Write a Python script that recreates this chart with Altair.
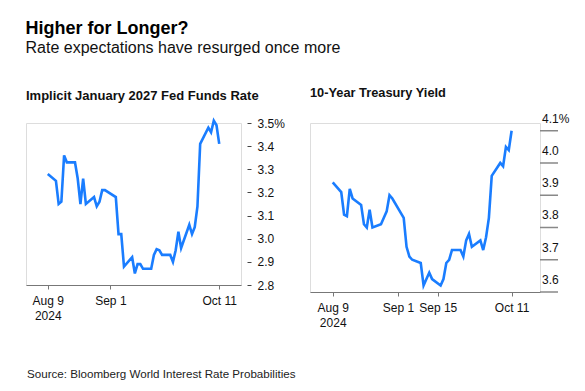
import altair as alt
import pandas as pd

FONT = "Liberation Sans"
BLUE = "#1a7dff"

title_text = "Higher for Longer?"
subtitle_text = "Rate expectations have resurged once more"
left_title = "Implicit January 2027 Fed Funds Rate"
right_title = "10-Year Treasury Yield"
source_text = "Source: Bloomberg World Interest Rate Probabilities"

left_dates = [
    "2024-08-09", "2024-08-12", "2024-08-13", "2024-08-14", "2024-08-15", "2024-08-16",
    "2024-08-19", "2024-08-20", "2024-08-21", "2024-08-22", "2024-08-23",
    "2024-08-26", "2024-08-27", "2024-08-28", "2024-08-29", "2024-08-30",
    "2024-09-03", "2024-09-04", "2024-09-05", "2024-09-06",
    "2024-09-09", "2024-09-10", "2024-09-11", "2024-09-12", "2024-09-13",
    "2024-09-16", "2024-09-17", "2024-09-18", "2024-09-19", "2024-09-20",
    "2024-09-23", "2024-09-24", "2024-09-25", "2024-09-26", "2024-09-27",
    "2024-09-30", "2024-10-01", "2024-10-02", "2024-10-03", "2024-10-04",
    "2024-10-07", "2024-10-08", "2024-10-09", "2024-10-10", "2024-10-11",
]
left_values = [
    3.28, 3.25, 3.15, 3.16, 3.36, 3.33,
    3.33, 3.26, 3.15, 3.26, 3.15,
    3.18, 3.14, 3.16, 3.21, 3.21,
    3.18, 3.02, 3.02, 2.88,
    2.92, 2.85, 2.89, 2.89, 2.87,
    2.87, 2.93, 2.955, 2.95, 2.93,
    2.93, 2.90, 2.95, 3.03, 2.96,
    3.06, 3.02, 3.05, 3.14, 3.41,
    3.48, 3.46, 3.51, 3.49, 3.41,
]

right_dates = left_dates
right_values = [
    3.94, 3.91, 3.84, 3.835, 3.92, 3.89,
    3.87, 3.81, 3.80, 3.855, 3.80,
    3.81, 3.83, 3.85, 3.90, 3.89,
    3.83, 3.74, 3.71, 3.70,
    3.69, 3.62, 3.64, 3.66, 3.64,
    3.62, 3.64, 3.69, 3.70, 3.73,
    3.73, 3.71, 3.76, 3.78, 3.74,
    3.76, 3.73, 3.77, 3.83, 3.96,
    4.00, 3.99, 4.05, 4.04, 4.10,
]

left_ticks = [2.8, 2.9, 3.0, 3.1, 3.2, 3.3, 3.4, 3.5]
right_ticks = [3.6, 3.7, 3.8, 3.9, 4.0, 4.1]
right_tick_labels = ["3.6", "3.7", "3.8", "3.9", "4.0", "4.1%"]


def dt(m, d):
    return alt.DateTime(year=2024, month=m, date=d, utc=True)


left_xticks = [dt(8, 9), dt(9, 1), dt(10, 11)]
right_xticks = [dt(8, 9), dt(9, 1), dt(9, 15), dt(10, 11)]

label_expr_x = "datum.label == 'Aug 9' ? ['Aug 9', '2024'] : datum.label"


def x_axis(vals):
    return alt.Axis(
        values=vals, format="%b %-d", labelExpr=label_expr_x, title=None,
        grid=False, domainColor="#777777", tickColor="#777777", tickSize=4,
        labelPadding=6, labelFontSize=12, labelFont=FONT, labelColor="#111111",
        labelLineHeight=15, labelBaseline="top", domainWidth=1.2,
    )


left_df = pd.DataFrame({"date": left_dates, "value": left_values})
right_df = pd.DataFrame({"date": right_dates, "value": right_values})
right_tick_df = pd.DataFrame({"v": right_ticks, "label": right_tick_labels})

left_line = alt.Chart(left_df).mark_line(color=BLUE, strokeWidth=2.6).encode(
    x=alt.X("date:T", scale=alt.Scale(type="utc", domain=[dt(8, 1), dt(10, 19)]),
            axis=x_axis(left_xticks)),
    y=alt.Y("value:Q", scale=alt.Scale(domain=[2.8, 3.5], zero=False, nice=False),
            axis=alt.Axis(
                orient="right", values=left_ticks, title=None, grid=False, domain=False,
                offset=6, tickSize=4, tickColor="#444444", labelPadding=6,
                labelOverlap=False,
                labelExpr="datum.value == 3.5 ? format(datum.value, '.1f') + '%' : format(datum.value, '.1f')",
                labelFontSize=12, labelFont=FONT, labelColor="#111111", labelAlign="left",
            )),
)

source = alt.Chart(pd.DataFrame({"t": [source_text]})).mark_text(
    align="left", baseline="alphabetic", fontSize=11.6, font=FONT, color="#222222"
).encode(text="t:N", x=alt.value(1), y=alt.value(255))

left = alt.layer(left_line, source).properties(
    width=215, height=162,
    title=alt.TitleParams(left_title, anchor="start", fontSize=13, font=FONT,
                          fontWeight="bold", color="#111111", offset=12),
)

yscale_r = alt.Scale(domain=[3.6, 4.124], zero=False, nice=False)

right_line = alt.Chart(right_df).mark_line(color=BLUE, strokeWidth=2.6).encode(
    x=alt.X("date:T", scale=alt.Scale(type="utc", domain=[dt(8, 1), dt(10, 21)]),
            axis=x_axis(right_xticks)),
    y=alt.Y("value:Q", scale=yscale_r,
            axis=alt.Axis(
                orient="right", values=right_ticks, title=None, grid=False, domain=False,
                labels=False, ticks=True, tickSize=18, tickColor="#888888", tickWidth=1.5,
            )),
)

right_tick_base = alt.Chart(right_tick_df).encode(
    y=alt.Y("v:Q", scale=yscale_r, axis=None),
)

right_tick_rules = right_tick_base.mark_rule(color="#888888", strokeWidth=1.5).encode(
    x=alt.value(230), x2=alt.value(248),
)

right_tick_text = right_tick_base.mark_text(
    align="left", baseline="alphabetic", dy=-8, fontSize=12, font=FONT, color="#111111"
).encode(text="label:N", x=alt.value(232))

right = alt.layer(right_line, right_tick_rules, right_tick_text).properties(
    width=230, height=169,
    title=alt.TitleParams(right_title, anchor="start", fontSize=12.8, font=FONT,
                          fontWeight="bold", color="#111111", offset=13),
)

chart = alt.hconcat(left, right, spacing=12).properties(
    title=alt.TitleParams(
        title_text, subtitle=subtitle_text, anchor="start", fontSize=18, font=FONT,
        fontWeight="bold", color="#000000", subtitleFont=FONT, subtitleFontSize=16,
        subtitleColor="#111111", subtitlePadding=2, offset=30,
    ),
    padding={"left": 17, "top": 12, "right": 2, "bottom": 2},
).configure_view(stroke=None).configure(background="white")

chart.save("out.html", embed_options={"renderer": "svg", "actions": False})
